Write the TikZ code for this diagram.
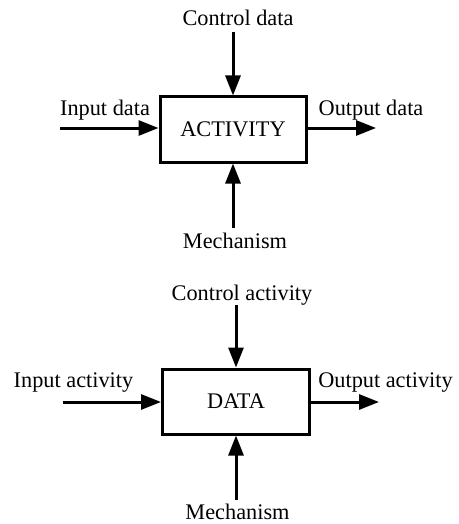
\documentclass[tikz,border=0pt]{standalone}
\usepackage{fontspec}
\setmainfont{Liberation Serif}
\usetikzlibrary{arrows.meta}
\begin{document}
\begin{tikzpicture}[x=1pt,y=-1pt,
  box/.style={draw,line width=3pt,minimum width=146pt,minimum height=65pt,inner sep=0pt,
    font=\fontsize{22.3}{26}\selectfont},
  lbl/.style={anchor=base,inner sep=0pt,font=\fontsize{22.3}{26}\selectfont},
  flow/.style={line width=3pt,-{Triangle[length=20pt,width=15pt]}}]
\useasboundingbox (0,0) rectangle (458,524);
% ICOM diagram for an activity
\node[box] (act) at (233,129.5) {\raisebox{-1pt}{ACTIVITY}};
\coordinate (a-in) at (60,128);
\coordinate (a-out) at (376,128);
\coordinate (a-ctl) at (233,32);
\coordinate (a-mech) at (233,228);
\draw[flow] (a-in) -- (a-in -| act.west);
\draw[flow] (act.east |- a-out) -- (a-out);
\draw[flow] (a-ctl) -- (act.north);
\draw[flow] (a-mech) -- (act.south);
\node[lbl] (a-ctl-t) at (238,26) {Control data};
\node[lbl] (a-in-t) at (105,115) {Input data};
\node[lbl] (a-out-t) at (371,115) {Output data};
\node[lbl] (a-mech-t) at (235,248) {Mechanism};
% ICOM diagram for a data object
\node[box,minimum width=147pt] (dat) at (236,401.5) {\raisebox{-1pt}{DATA}};
\coordinate (d-in) at (63,402);
\coordinate (d-out) at (379,402);
\coordinate (d-ctl) at (236,305);
\coordinate (d-mech) at (236,500);
\draw[flow] (d-in) -- (d-in -| dat.west);
\draw[flow] (dat.east |- d-out) -- (d-out);
\draw[flow] (d-ctl) -- (dat.north);
\draw[flow] (d-mech) -- (dat.south);
\node[lbl] (d-ctl-t) at (242,300) {Control activity};
\node[lbl] (d-in-t) at (73.5,387) {Input activity};
\node[lbl] (d-out-t) at (385.5,387) {Output activity};
\node[lbl] (d-mech-t) at (237.5,519) {Mechanism};
\end{tikzpicture}
\end{document}
